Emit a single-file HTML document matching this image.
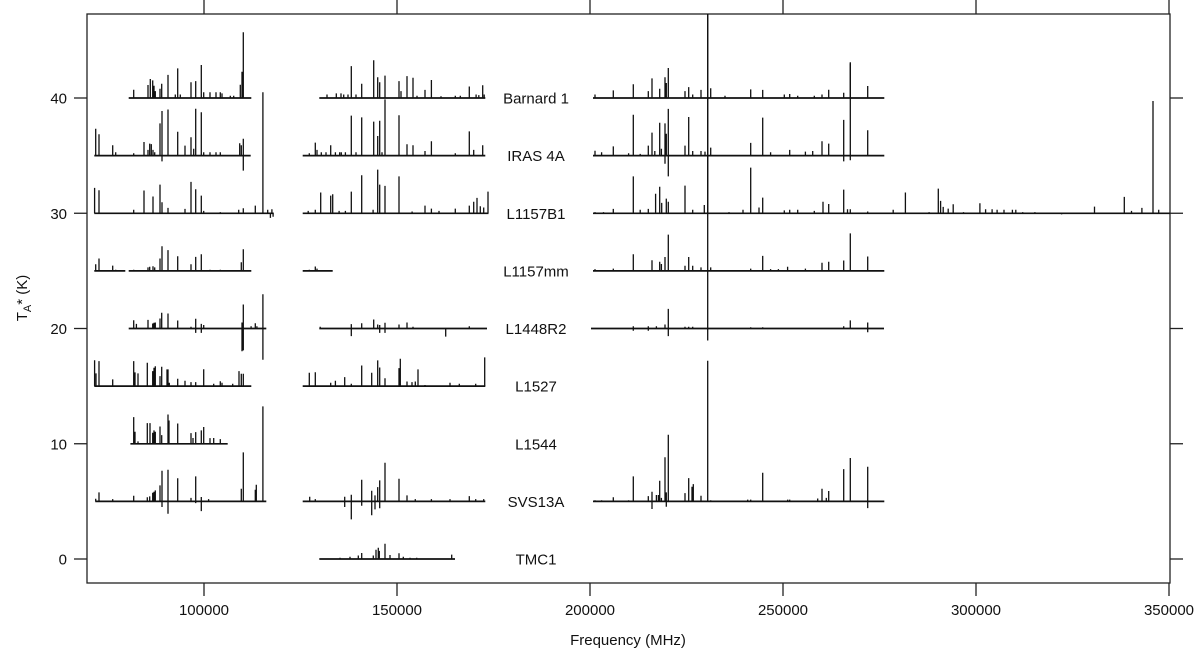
<!DOCTYPE html>
<html><head><meta charset="utf-8"><style>
html,body{margin:0;padding:0;background:#fff;}
svg{display:block;font-family:"Liberation Sans",Arial,sans-serif;}
</style></head><body>
<svg id="chart" width="1200" height="651" viewBox="0 0 1200 651" xmlns="http://www.w3.org/2000/svg">
<defs><clipPath id="plotclip"><rect x="87" y="14" width="1083" height="569"/></clipPath></defs>
<g id="axes"></g>
<g id="marks" clip-path="url(#plotclip)"></g>
<g id="labels"></g>
</svg>
<script>
const xTicks = [100000,150000,200000,250000,300000,350000];
const yTicks = [0,10,20,30,40];
const sourceNames = ["Barnard 1","IRAS 4A","L1157B1","L1157mm","L1448R2","L1527","L1544","SVS13A","TMC1"];
const sourceOffsets = [40,35,30,25,20,15,10,5,0];
const sourceSegments = [
 [[80490,112250],[129870,172880],[200770,276250]],
 [[71580,112090],[125560,172880],[200770,276250]],
 [[71580,118050],[125560,173700],[200770,350250]],
 [[71580,79620],[80480,112260],[125560,133340],[200770,276250]],
 [[80490,116150],[129870,173320],[200260,276170]],
 [[71580,112260],[125560,172880]],
 [[80920,106130]],
 [[71850,116150],[125560,172880],[200770,276250]],
 [[129870,165020]]
];
const barnard1Lines = [[81780,0.72],[85490,1.13],[86100,1.65],[86700,1.53],[87050,1.07],[87390,0.6],[88600,0.8],[89030,1.24],[90670,2.0],[92570,0.3],[93180,2.57],[93870,0.3],[96630,1.36],[97840,1.47],[99310,2.86],[99910,0.5],[101550,0.5],[103110,0.5],[104230,0.5],[104660,0.4],[106820,0.2],[107690,0.2],[109410,1.15],[109840,2.28],[110190,5.7],
[131870,0.3],[134280,0.4],[135490,0.4],[136190,0.3],[137310,0.3],[138170,2.77],[139380,0.3],[140850,1.24],[143960,3.27],[144990,1.8],[145510,1.36],[146890,1.94],[150520,1.47],[151040,0.6],[152590,1.9],[154150,1.76],[155180,0.2],[157260,0.7],[158900,1.56],[161400,0.15],[165110,0.2],[166410,0.2],[168740,1.0],[170500,0.3],[171200,0.25],[172190,1.1],[172600,0.3],
[201300,0.3],[206040,0.66],[211220,1.2],[215100,0.6],[216060,1.7],[218060,0.8],[219430,1.8],[219770,1.3],[220290,2.6],[224610,0.6],[225570,0.95],[226610,0.3],[228760,0.7],[231270,0.84],[234980,0.2],[241630,0.75],[244740,0.7],[250340,0.3],[251740,0.35],[253810,0.2],[258110,0.2],[260100,0.3],[261840,0.72],[265730,0.46],[267440,3.1],[271950,1.04]];
const iras4aLines = [[71935,2.34],[72800,1.85],[76340,0.9],[77120,0.3],[81780,0.2],[84460,1.18],[85490,0.5],[85920,1.04],[86350,1.0],[86790,0.5],[87220,0.3],[88600,2.8],[89120,3.87],[89120,-0.5],[90670,4.0],[93180,2.08],[95080,0.87],[96630,1.6],[97320,0.6],[97840,4.07],[99310,3.76],[99910,0.3],[101550,0.3],[103110,0.3],[104230,0.3],[109240,1.07],[109670,0.9],[110190,1.47],[110190,-1.3],
[127290,0.2],[128840,1.13],[129270,0.5],[130400,0.3],[131610,0.3],[132820,0.9],[134030,0.3],[135150,0.3],[135580,0.3],[136620,0.3],[138170,3.47],[139380,0.3],[140850,3.32],[143960,2.95],[144990,1.7],[145510,3.03],[146110,0.3],[146890,4.88],[150520,3.5],[152590,0.98],[154150,0.9],[157260,0.4],[158900,1.24],[165110,0.2],[168740,2.1],[169860,0.5],[172190,0.9],
[201300,0.43],[203000,0.3],[206040,0.8],[210000,0.2],[211220,3.55],[213000,0.15],[215100,0.87],[216060,2.0],[216800,0.4],[218060,2.86],[218500,0.6],[219430,2.8],[219430,-0.7],[219770,1.9],[220290,4.05],[220290,-1.8],[224610,0.87],[225570,3.35],[226610,0.4],[228760,0.4],[229800,0.35],[231270,0.7],[241630,1.1],[244740,3.3],[246800,0.3],[251740,0.5],[255800,0.35],[257700,0.4],[260100,1.25],[261840,1.04],[265730,3.1],[265730,-0.5],[267440,8.0],[267440,-0.4],[271950,2.2]];
const l1157b1Lines = [[71670,2.2],[72800,2.0],[81780,0.3],[84460,1.97],[86790,1.45],[88600,2.49],[89120,0.95],[90670,0.46],[95080,0.38],[96630,2.72],[97840,2.08],[99310,1.53],[99910,0.2],[104230,0.1],[108980,0.3],[110190,0.43],[113300,0.66],[115270,10.5],[116500,0.3],[117200,-0.4],[117600,0.35],[117900,-0.3],
[127000,0.2],[128840,0.3],[130230,1.8],[132820,1.53],[133340,1.65],[135000,0.2],[136620,0.2],[138170,1.88],[140850,3.3],[143800,0.3],[144990,3.79],[145510,2.49],[146890,2.37],[150520,3.2],[153900,0.15],[157260,0.66],[158900,0.4],[160880,0.2],[165110,0.4],[168740,0.66],[169860,1.0],[170720,1.33],[171590,0.6],[172450,0.5],[173570,1.88],
[201300,0.1],[203500,0.1],[206040,0.38],[211220,3.2],[213000,0.3],[215100,0.38],[217000,1.7],[218060,2.3],[218570,0.9],[219770,1.27],[220290,1.0],[224610,2.4],[226610,0.3],[229620,0.72],[230490,20],[236000,0.1],[239640,0.3],[241630,3.96],[243780,0.5],[244740,1.36],[250340,0.25],[251740,0.3],[253800,0.3],[258100,0.2],[260360,1.0],[261840,0.8],[265730,2.05],[266700,0.35],[267440,0.35],[271950,0.15],
[278550,0.3],[281710,1.8],[287850,0.1],[290230,2.14],[290830,1.07],[291500,0.55],[292800,0.4],[294090,0.78],[296760,0.1],[301010,0.87],[302490,0.35],[304170,0.35],[305470,0.3],[307260,0.3],[309430,0.3],[310310,0.3],[312100,0.1],[315260,0.1],[322180,-0.1],[330700,0.58],[338420,1.42],[340290,0.2],[342980,0.46],[345860,9.74],[347340,0.3]];
const l1157mmLines = [[71935,0.58],[72800,1.07],[76340,0.46],[77120,0.1],[81780,0.1],[85490,0.3],[85920,0.35],[86790,0.4],[87220,0.3],[88600,1.07],[89120,2.14],[90670,1.8],[93180,1.27],[96630,0.58],[97840,1.21],[99310,1.45],[101550,0.1],[104230,0.1],[109670,0.75],[110190,1.88],
[127290,0.1],[128840,0.38],[129270,0.2],
[201300,0.15],[206040,0.2],[211220,1.45],[216060,0.92],[218060,0.8],[218500,0.6],[219430,1.2],[220290,3.15],[224610,0.45],[225570,1.2],[226610,0.45],[228760,0.3],[231270,0.3],[241630,0.2],[244740,1.3],[246800,0.15],[248800,0.15],[251200,0.35],[255800,0.2],[260100,0.7],[261840,0.8],[265730,0.9],[267440,3.25],[271950,1.25]];
const l1448r2Lines = [[81780,0.72],[82500,0.4],[85490,0.75],[86700,0.43],[87050,0.5],[87390,0.52],[88600,0.87],[89030,1.36],[90670,1.3],[93180,0.69],[96630,0.15],[97840,0.84],[97840,-0.38],[99310,0.4],[99310,-0.38],[99910,0.3],[109840,0.52],[109840,-1.97],[110190,2.08],[110190,-1.9],[112200,0.2],[113300,0.46],[113700,0.2],[115270,2.98],[115270,-2.72],
[130100,0.15],[138170,0.38],[138170,-0.66],[140850,0.46],[143960,0.78],[144990,0.35],[145510,0.3],[145510,-0.38],[146890,0.5],[146890,-0.38],[150520,0.35],[152590,0.52],[154150,0.15],[162610,-0.7],[168740,0.2],
[211220,0.2],[211220,-0.2],[215100,0.2],[215100,-0.2],[217200,0.2],[219430,0.35],[220290,1.7],[220290,-0.66],[224610,0.15],[225570,0.15],[226610,0.15],[230490,28],[230490,-1.04],[241630,0.1],[244740,0.1],[265730,0.2],[267440,0.7],[271950,0.52],[271950,-0.32]];
const l1527Lines = [[71670,2.25],[72020,1.1],[72800,2.17],[76340,0.58],[81780,2.17],[82130,1.19],[82900,1.1],[85320,2.02],[86700,1.3],[87050,1.59],[87390,1.73],[88600,0.87],[89030,1.68],[90410,1.45],[90670,1.45],[91020,0.3],[93180,0.64],[95080,0.46],[96630,0.35],[97840,0.35],[99910,1.47],[102500,0.2],[104230,0.43],[104660,0.3],[107430,0.2],[109070,1.3],[109670,1.07],[110190,1.07],
[127290,1.16],[128840,1.21],[132820,0.3],[134030,0.46],[136440,0.78],[138170,0.2],[140850,1.79],[143440,1.16],[144990,2.23],[145510,1.62],[146890,0.69],[150520,1.56],[150860,2.37],[152590,0.4],[153890,0.35],[154750,0.4],[155440,1.45],[157260,0.1],[163730,0.3],[166150,0.2],[170380,0.2],[172710,2.49]];
const l1544Lines = [[81780,2.31],[82130,1.04],[82900,0.2],[85320,1.79],[86010,1.79],[86700,0.95],[87050,1.16],[87390,1.04],[88600,1.5],[89030,0.75],[90670,2.54],[90930,2.02],[93180,1.76],[96630,0.92],[97150,0.5],[97840,1.01],[99310,1.16],[99910,1.45],[101550,0.49],[102500,0.5],[104230,0.4]];
const svs13aLines = [[71935,0.23],[72800,0.78],[76340,0.2],[81780,0.49],[85320,0.35],[85920,0.43],[86700,0.75],[87050,0.84],[87390,0.95],[88600,1.39],[89120,2.66],[89120,-0.49],[90670,2.75],[90670,-1.07],[93180,2.0],[96630,0.3],[97840,2.17],[97840,-0.15],[99310,0.38],[99310,-0.84],[101200,0.2],[109670,1.1],[110190,4.25],[113300,1.01],[113560,1.45],[115270,8.24],
[127380,0.4],[128840,0.2],[136440,0.4],[136440,-0.49],[138170,0.58],[138170,-1.56],[140850,1.88],[140850,-0.38],[143440,0.92],[143440,-1.21],[144300,0.52],[144300,-0.7],[144990,1.24],[145510,1.82],[145510,-0.6],[146890,3.35],[150520,1.97],[152590,0.52],[154750,0.2],[158900,0.2],[163730,0.2],[168740,0.46],[170380,0.2],[172450,0.2],
[201300,0.1],[203000,0.1],[206040,0.35],[210000,0.1],[211220,2.17],[215100,0.46],[216060,0.84],[216060,-0.66],[217200,0.55],[217720,0.55],[218060,1.79],[218500,0.3],[219430,3.82],[219770,0.78],[219770,-0.46],[220290,5.78],[224610,0.72],[225570,2.02],[226420,1.27],[226760,1.5],[228760,0.49],[230490,12.2],[231270,0.1],[240850,0.15],[241630,0.15],[244740,2.49],[251210,0.15],[251740,0.15],[258980,0.25],[260100,1.1],[261220,0.3],[261840,0.9],[265730,2.8],[267440,3.76],[271950,3.0],[271950,-0.58]];
const tmc1Lines = [[135230,0.1],[137820,0.2],[139980,0.3],[140850,0.52],[143860,0.3],[144560,0.8],[145160,0.98],[145420,0.7],[146890,1.33],[148190,0.35],[150520,0.5],[151640,0.2],[153370,0.1],[155100,0.1],[164170,0.38]];
const sourceLines = [barnard1Lines,iras4aLines,l1157b1Lines,l1157mmLines,l1448r2Lines,l1527Lines,l1544Lines,svs13aLines,tmc1Lines];

const NS="http://www.w3.org/2000/svg";
const PL=87,PR=1170,PT=14,PB=583;
function xs(f){return 204+(f-100000)*0.00386;}
function ys(t){return 559-t*11.525;}
function mk(tag,attrs,parent){const e=document.createElementNS(NS,tag);for(const k in attrs)e.setAttribute(k,attrs[k]);parent.appendChild(e);return e;}
const axes=document.getElementById('axes'),marks=document.getElementById('marks'),labels=document.getElementById('labels');

const frame=mk('rect',{x:PL,y:PT,width:PR-PL,height:PB-PT,fill:'none',stroke:'#222','stroke-width':1.3},axes);


xTicks.forEach(v=>{
  const x=xs(v);
  const t1=mk('line',{x1:x,x2:x,y1:PB,y2:PB+13,stroke:'#222','stroke-width':1.3},axes);
  
  
  const t2=mk('line',{x1:x,x2:x,y1:0,y2:PT,stroke:'#222','stroke-width':1.3},axes);
  
  
  const tl=mk('text',{x:x,y:615,'text-anchor':'middle','font-size':15,fill:'#111'},axes);
  tl.textContent=v;
  
  
});
yTicks.forEach(v=>{
  const y=ys(v);
  const t1=mk('line',{x1:PL-13,x2:PL,y1:y,y2:y,stroke:'#222','stroke-width':1.3},axes);
  
  
  const t2=mk('line',{x1:PR,x2:PR+13,y1:y,y2:y,stroke:'#222','stroke-width':1.3},axes);
  
  
  const tl=mk('text',{x:67,y:y+5.5,'text-anchor':'end','font-size':15,fill:'#111'},axes);
  tl.textContent=v;
  
  
});
const xt=mk('text',{x:628,y:645,'text-anchor':'middle','font-size':15,fill:'#111'},axes);
xt.textContent='Frequency (MHz)';


const yt=mk('text',{x:0,y:0,'text-anchor':'middle','font-size':15,fill:'#111',transform:'translate(27,298) rotate(-90)'},axes);


yt.innerHTML='T<tspan font-size="11" dy="4">A</tspan><tspan dy="-4">* (K)</tspan>';

sourceNames.forEach((name,i)=>{
  const off=sourceOffsets[i];
  const g=mk('g',{},marks);
  
  
  let d='';
  sourceSegments[i].forEach(s=>{d+='M'+xs(s[0]).toFixed(1)+' '+ys(off).toFixed(1)+'H'+xs(s[1]).toFixed(1);});
  const bl=mk('path',{d:d,stroke:'#111','stroke-width':1.7,fill:'none'},g);
  
  
  let ld='';
  sourceLines[i].forEach(p=>{const x=xs(p[0]).toFixed(1);ld+='M'+x+' '+ys(off).toFixed(1)+'V'+ys(off+p[1]).toFixed(1);});
  const ln=mk('path',{d:ld,stroke:'#111','stroke-width':1.3,fill:'none'},g);
  
  
  const lab=mk('text',{x:536,y:ys(off)+5.5,'text-anchor':'middle','font-size':15,fill:'#111'},labels);
  lab.textContent=name;
  
  
});
</script>
</body></html>
